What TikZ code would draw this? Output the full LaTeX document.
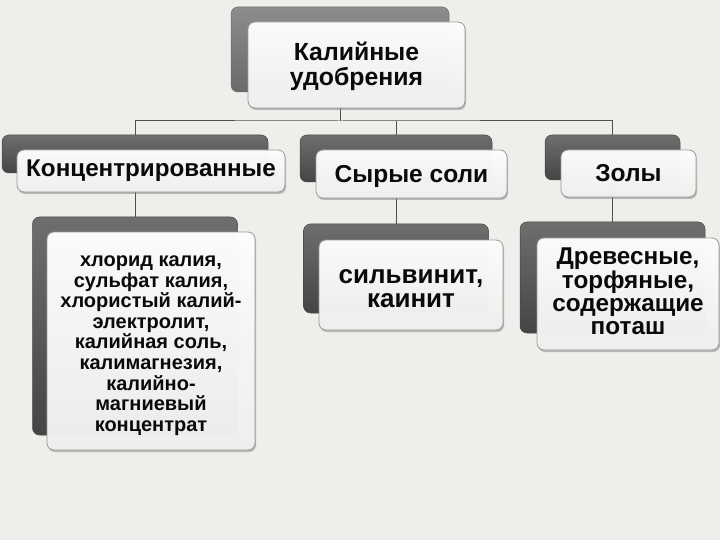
\documentclass[tikz,border=0pt]{standalone}
\usepackage{fontspec}
\setmainfont{Liberation Sans}
\usetikzlibrary{shadows}
\definecolor{bg}{HTML}{EEEEEA}
\definecolor{dka}{HTML}{6E6E6E}
\definecolor{dkb}{HTML}{454545}
\definecolor{dta}{HTML}{8C8C8C}
\definecolor{dtb}{HTML}{6A6A6A}
\definecolor{wb}{HTML}{F0F0F0}
\definecolor{wbd}{HTML}{9A9A9A}
\definecolor{ln}{HTML}{505050}
\definecolor{txt}{HTML}{0A0A0A}
\newcommand{\lifttxt}[1]{\rule{0pt}{#1}}
\newcommand{\droptxt}[1]{\rule[-#1]{0pt}{#1}}
\begin{document}
\begin{tikzpicture}[x=1pt,y=-1pt,
  darkbox/.style={rounded corners=7pt, top color=dka, bottom color=dkb, draw=dkb, line width=0.5pt, inner sep=0pt},
  whitebox/.style={rounded corners=7pt, top color=white, bottom color=wb, draw=wbd, line width=0.8pt, inner sep=2pt, align=center, text=txt, fill opacity=0.97, text opacity=1, drop shadow={opacity=0.5, shadow xshift=1pt, shadow yshift=-2pt}},
  conn/.style={draw=ln, line width=1pt}]
\fill[bg] (0,0) rectangle (720,540);
\useasboundingbox (0,0) rectangle (720,540);
% dark boxes
\node[darkbox, top color=dta, bottom color=dtb, draw=dtb, minimum width=218pt, minimum height=85pt] (topd) at (340,49.5) {};
\node[darkbox, minimum width=266pt, minimum height=38pt] (c1d) at (135,154) {};
\node[darkbox, minimum width=192pt, minimum height=47pt] (c2d) at (396,158.5) {};
\node[darkbox, minimum width=135pt, minimum height=45pt] (c3d) at (612.5,157.5) {};
\node[darkbox, minimum width=205pt, minimum height=218pt] (d1d) at (135,326) {};
\node[darkbox, minimum width=185pt, minimum height=89pt] (d2d) at (396,268.5) {};
\node[darkbox, minimum width=185pt, minimum height=111pt] (d3d) at (612.5,277.5) {};
% connectors
\coordinate (bus) at (340,121);
\draw[conn] (topd.south) -- (bus);
\draw[conn] (c1d.north) |- (bus) -| (c3d.north);
\draw[conn] (c2d.north) -- (c2d.north |- bus);
\draw[conn] (c1d.south) -- (c1d.south |- d1d.north);
\draw[conn] (c2d.south) -- (c2d.south |- d2d.north);
\draw[conn] (c3d.south) -- (c3d.south |- d3d.north);
% white boxes
\node[whitebox, minimum width=217pt, minimum height=86pt, font=\bfseries\fontsize{24.8}{25}\selectfont] (top) at (356.5,65)
  {\lifttxt{21pt}Калийные\\ удобрения};
\node[whitebox, minimum width=268pt, minimum height=42pt, font=\bfseries\fontsize{24.2}{25}\selectfont] (c1) at (151,171)
  {Концентрированные};
\node[whitebox, minimum width=191pt, minimum height=48pt, font=\bfseries\fontsize{24.5}{25}\selectfont] (c2) at (411.5,174)
  {\lifttxt{22pt}Сырые соли};
\node[whitebox, minimum width=135pt, minimum height=47pt, font=\bfseries\fontsize{24.5}{25}\selectfont] (c3) at (628.5,173.5)
  {Золы};
\node[whitebox, minimum width=208pt, minimum height=218pt, font=\bfseries\fontsize{20}{20.6}\selectfont] (d1) at (151,341)
  {\lifttxt{20pt}хлорид калия,\\ сульфат калия,\\ хлористый калий-\\ электролит,\\ калийная соль,\\ калимагнезия,\\ калийно-\\ магниевый\\ концентрат};
\node[whitebox, minimum width=184pt, minimum height=90pt, font=\bfseries\fontsize{26}{23.5}\selectfont] (d2) at (411,285)
  {\lifttxt{21pt}сильвинит,\\ каинит};
\node[whitebox, minimum width=182pt, minimum height=112pt, font=\bfseries\fontsize{24.3}{23.3}\selectfont] (d3) at (628,294)
  {Древесные,\\ торфяные,\\ содержащие\\ поташ\droptxt{5pt}};
\end{tikzpicture}
\end{document}
